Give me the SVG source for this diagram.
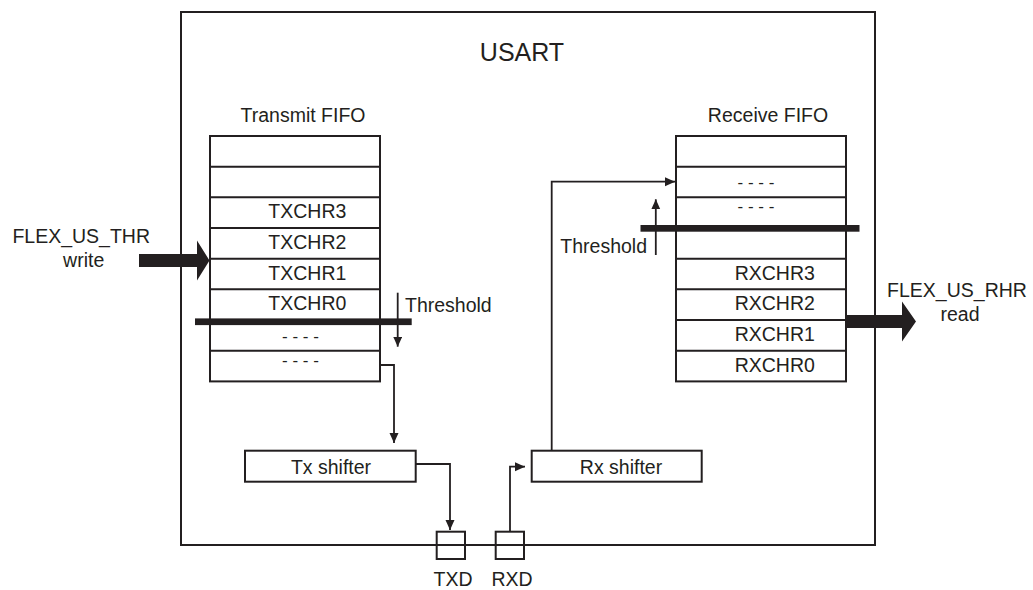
<svg xmlns="http://www.w3.org/2000/svg" width="1033" height="590" viewBox="0 0 1033 590">
<style>
text{font-family:"Liberation Sans",Arial,sans-serif;font-size:19.5px;fill:#231f20}
.mid{text-anchor:middle}
.end{text-anchor:end}
.box{fill:#fff;stroke:#231f20;stroke-width:2}
.row{fill:none;stroke:#231f20;stroke-width:2}
.conn{fill:none;stroke:#231f20;stroke-width:1.8}
.bar{fill:#231f20}
.dash{font-size:17px}
</style>
<defs>
<marker id="ah" markerUnits="userSpaceOnUse" markerWidth="11" markerHeight="10" refX="10" refY="4.5" orient="auto">
<path d="M0,0 L10,4.5 L0,9 z" fill="#231f20"/>
</marker>
</defs>
<rect width="1033" height="590" fill="#fff"/>
<g id="usart">
<rect x="181" y="12" width="694" height="533" class="row"/>
<text x="522" y="61" class="mid" style="font-size:25px">USART</text>
</g>
<g id="transmit-fifo">
<text x="303" y="121.7" class="mid">Transmit FIFO</text>
<rect x="210" y="136" width="170" height="245.4" class="box"/>
<path class="row" d="M210,166.7H380M210,197.3H380M210,228H380M210,258.7H380M210,289.3H380M210,320H380M210,350.7H380"/>
<text x="268.3" y="218.3">TXCHR3</text>
<text x="268.3" y="249">TXCHR2</text>
<text x="268.3" y="279.7">TXCHR1</text>
<text x="268.3" y="310.3">TXCHR0</text>
<text x="300.5" y="342" class="mid dash">- - - -</text>
<text x="300.5" y="366.3" class="mid dash">- - - -</text>
<rect x="195" y="318.4" width="216.7" height="6.7" class="bar"/>
</g>
<g id="receive-fifo">
<text x="768" y="121.7" class="mid">Receive FIFO</text>
<rect x="676" y="136" width="170" height="245.4" class="box"/>
<path class="row" d="M676,166.7H846M676,197.3H846M676,228H846M676,258.7H846M676,289.3H846M676,320H846M676,350.7H846"/>
<text x="756" y="188" class="mid dash">- - - -</text>
<text x="756" y="212.3" class="mid dash">- - - -</text>
<text x="734.7" y="279.7">RXCHR3</text>
<text x="734.7" y="310.3">RXCHR2</text>
<text x="734.7" y="341">RXCHR1</text>
<text x="734.7" y="371.7">RXCHR0</text>
<rect x="640.5" y="225" width="219" height="6.7" class="bar"/>
</g>
<g id="tx-threshold">
<path class="conn" d="M397.7,292.7V346.7" marker-end="url(#ah)"/>
<text x="405" y="312.3">Threshold</text>
</g>
<g id="rx-threshold">
<path class="conn" d="M655.8,255V199.3" marker-end="url(#ah)"/>
<text x="647" y="252.7" class="end">Threshold</text>
</g>
<g id="thr-write">
<text x="81.2" y="243.3" class="mid">FLEX_US_THR</text>
<text x="83.7" y="266.7" class="mid">write</text>
<polygon class="bar" points="139,254 197,254 197,240.5 209.5,260.5 197,280.5 197,267 139,267"/>
</g>
<g id="rhr-read">
<text x="957" y="296.7" class="mid">FLEX_US_RHR</text>
<text x="960" y="321" class="mid">read</text>
<polygon class="bar" points="846,315 902,315 902,301.5 916,321.5 902,341.5 902,328 846,328"/>
</g>
<g id="tx-shifter">
<rect x="245" y="450.7" width="170.7" height="31" class="box"/>
<text x="331" y="474" class="mid">Tx shifter</text>
</g>
<g id="rx-shifter">
<rect x="531.7" y="450.7" width="170" height="31" class="box"/>
<text x="621" y="474" class="mid">Rx shifter</text>
</g>
<g id="txd">
<rect x="436.7" y="531.7" width="28.3" height="27.3" class="row"/>
<text x="453" y="586" class="mid">TXD</text>
</g>
<g id="rxd">
<rect x="495.7" y="531.7" width="28.3" height="27.3" class="row"/>
<text x="512" y="586" class="mid">RXD</text>
</g>
<g id="connectors">
<path class="conn" d="M380,365H394V443" marker-end="url(#ah)"/>
<path class="conn" d="M415.7,464H450V530" marker-end="url(#ah)"/>
<path class="conn" d="M510,531.7V466.7H525" marker-end="url(#ah)"/>
<path class="conn" d="M551.7,450.7V181.7H675" marker-end="url(#ah)"/>
</g>
</svg>
